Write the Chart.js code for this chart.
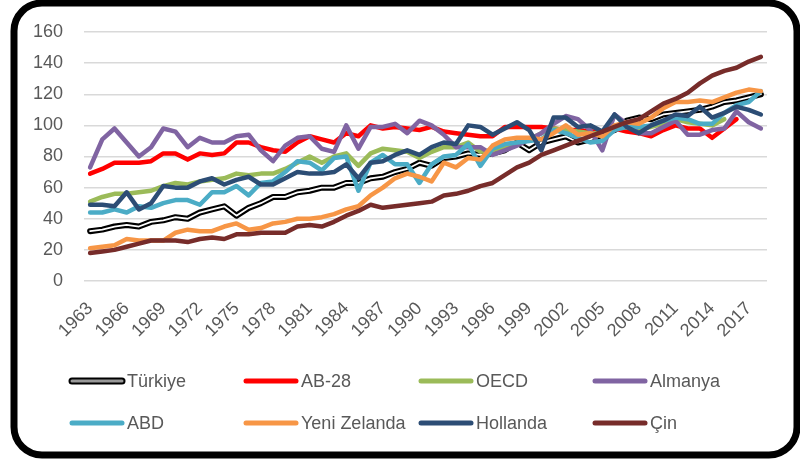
<!DOCTYPE html>
<html>
<head>
<meta charset="utf-8">
<title>Grafik</title>
<script src="https://cdn.jsdelivr.net/npm/chart.js"></script>
<style>
  html, body { margin: 0; padding: 0; background: #ffffff; }
  #wrap { position: relative; width: 800px; height: 461px; }
</style>
</head>
<body>
<div id="wrap"><canvas id="grafik" width="800" height="461"></canvas></div>
<script>
// yillar ve seriler
var yillar = [1963, 1964, 1965, 1966, 1967, 1968, 1969, 1970, 1971, 1972, 1973, 1974, 1975, 1976,
    1977, 1978, 1979, 1980, 1981, 1982, 1983, 1984, 1985, 1986, 1987, 1988, 1989, 1990, 1991, 1992,
    1993, 1994, 1995, 1996, 1997, 1998, 1999, 2000, 2001, 2002, 2003, 2004, 2005, 2006, 2007, 2008,
    2009, 2010, 2011, 2012, 2013, 2014, 2015, 2016, 2017, 2018];

var turkiye = [32, 33, 35, 36, 35, 38, 39, 41, 40, 44, 46, 48, 42, 47, 50, 54, 54, 57, 58, 60,
    60, 63, 63, 66, 67, 70, 72, 76, 74, 79, 80, 82, 81, 82, 84, 89, 84, 89, 91, 93,
    89, 91, 94, 97, 103, 105, 104, 107, 108, 109, 110, 112, 115, 116, 118, 120];
var ab28 = [69, 72, 76, 76, 76, 77, 82, 82, 78, 82, 81, 82, 89, 89, 86, 84, 83, 89, 93, 91,
    89, 95, 93, 100, 98, 99, 98, 97, 99, 96, 95, 94, 93, 93, 99, 99, 99, 99, 98, 97,
    97, 96, 96, 98, 96, 95, 93, 97, 100, 98, 98, 92, 98, 104, null, null];
var oecd = [51, 54, 56, 56, 57, 58, 61, 63, 62, 64, 65, 66, 69, 68, 69, 69, 72, 76, 80, 76,
    80, 82, 74, 82, 85, 84, 83, 79, 83, 86, 86, 89, 83, 84, 86, 89, 91, 95, 98, 97,
    96, 95, 95, 98, 99, 98, 99, 101, 104, 102, 101, 100, 104, null, null, null];
var almanya = [73, 91, 98, 89, 80, 86, 98, 96, 86, 92, 89, 89, 93, 94, 84, 77, 87, 92, 93, 85,
    83, 100, 85, 99, 99, 101, 95, 103, 100, 94, 86, 86, 86, 81, 84, 87, 91, 95, 101, 106,
    104, 97, 84, 107, 101, 95, 95, 99, 103, 94, 94, 97, 98, 109, 102, 98];
var abd = [44, 44, 46, 44, 48, 47, 50, 52, 52, 49, 57, 57, 61, 55, 63, 64, 70, 77, 76, 71,
    79, 80, 58, 76, 81, 75, 75, 63, 75, 80, 81, 88, 74, 85, 88, 89, 90, 91, 97, 95,
    92, 89, 90, 97, 99, 99, 100, 103, 105, 104, 101, 101, 108, 113, 115, 122];
var yeniZelanda = [21, 22, 23, 27, 26, 26, 26, 31, 33, 32, 32, 35, 37, 33, 34, 37, 38, 40, 40, 41,
    43, 46, 48, 55, 60, 66, 69, 67, 64, 76, 73, 79, 78, 87, 91, 92, 92, 91, 95, 100,
    94, 95, 93, 100, 102, 101, 105, 111, 115, 115, 116, 115, 118, 121, 123, 122];
var hollanda = [49, 49, 48, 57, 46, 50, 61, 60, 60, 64, 66, 62, 65, 67, 62, 62, 66, 70, 69, 69,
    70, 75, 66, 76, 77, 81, 84, 81, 86, 89, 88, 100, 99, 94, 98, 102, 97, 84, 105, 105,
    99, 100, 96, 107, 99, 95, 100, 103, 107, 106, 112, 105, 108, 112, 110, 107];
var cin = [18, 19, 20, 22, 24, 26, 26, 26, 25, 27, 28, 27, 30, 30, 31, 31, 31, 35, 36, 35,
    38, 42, 45, 49, 47, 48, 49, 50, 51, 55, 56, 58, 61, 63, 68, 73, 76, 81, 84, 87,
    90, 93, 96, 99, 102, 104, 109, 114, 117, 121, 127, 132, 135, 137, 141, 144];

var yEkseni = [0, 20, 40, 60, 80, 100, 120, 140, 160];

var yaziRengi = '#595959';
var yaziTipi = "'Liberation Sans', Arial, sans-serif";

function seri(ad, veri, renk, sira) {
    return {
        label: ad,
        data: veri,
        borderColor: renk,
        backgroundColor: renk,
        borderWidth: 4.5,
        pointRadius: 0,
        tension: 0,
        spanGaps: false,
        borderCapStyle: 'round',
        borderJoinStyle: 'round',
        order: sira
    };
}

var turkiyeUst = seri('Türkiye', turkiye, '#ffffff', 8);
turkiyeUst.borderWidth = 1.8;
turkiyeUst.ust = true;

var turkiyeAlt = seri('Türkiye', turkiye, '#000000', 9);
turkiyeAlt.borderWidth = 6;
turkiyeAlt.cift = true;

var veriSetleri = [
    turkiyeAlt,
    turkiyeUst,
    seri('AB-28', ab28, '#ff0000', 7),
    seri('OECD', oecd, '#9bbb59', 6),
    seri('Almanya', almanya, '#8064a2', 5),
    seri('ABD', abd, '#4bacc6', 4),
    seri('Yeni Zelanda', yeniZelanda, '#f79646', 3),
    seri('Hollanda', hollanda, '#2c4d75', 2),
    seri('Çin', cin, '#772c2a', 1)
];

// cerceve ve lejant
var cerceve = {
    id: 'cerceve',
    afterDraw: function (chart) {
        var ctx = chart.ctx;
        ctx.save();
        ctx.lineWidth = 7;
        ctx.strokeStyle = '#000000';
        ctx.beginPath();
        ctx.roundRect(14, 3, 783, 452, 28);
        ctx.stroke();

        var sutunlar = [69, 243, 418, 592];
        var satirlar = [381, 423];
        var k = 0;
        ctx.font = '18px ' + yaziTipi;
        ctx.textBaseline = 'middle';
        ctx.lineCap = 'round';
        chart.data.datasets.forEach(function (ds) {
            if (ds.ust) return;
            var x = sutunlar[k % 4];
            var y = satirlar[Math.floor(k / 4)];
            if (ds.cift) {
                ctx.strokeStyle = '#000000';
                ctx.lineWidth = 7;
                ctx.beginPath(); ctx.moveTo(x + 3, y); ctx.lineTo(x + 53, y); ctx.stroke();
                ctx.strokeStyle = '#999999';
                ctx.lineWidth = 3;
                ctx.beginPath(); ctx.moveTo(x + 3, y); ctx.lineTo(x + 53, y); ctx.stroke();
            } else {
                ctx.strokeStyle = ds.borderColor;
                ctx.lineWidth = 5;
                ctx.beginPath(); ctx.moveTo(x + 3, y); ctx.lineTo(x + 53, y); ctx.stroke();
            }
            ctx.fillStyle = yaziRengi;
            ctx.fillText(ds.label, x + 58, y + 1);
            k++;
        });
        ctx.restore();
    }
};

new Chart(document.getElementById('grafik'), {
    type: 'line',
    data: { labels: yillar, datasets: veriSetleri },
    options: {
        responsive: false,
        animation: false,
        layout: { padding: { left: 20, right: 33, top: 32, bottom: 100 } },
        plugins: {
            legend: { display: false },
            tooltip: { enabled: false }
        },
        scales: {
            x: {
                offset: true,
                grid: { display: false, drawTicks: false },
                border: { display: false },
                afterFit: function (s) { s.height = 80; },
                ticks: {
                    autoSkip: false,
                    minRotation: 45,
                    maxRotation: 45,
                    padding: 17,
                    color: yaziRengi,
                    font: { size: 18, family: yaziTipi },
                    callback: function (v, i) { return i % 3 === 0 ? yillar[i] : null; }
                }
            },
            y: {
                min: yEkseni[0],
                max: yEkseni[yEkseni.length - 1],
                afterFit: function (s) { s.width = 64; },
                grid: { color: '#d9d9d9', lineWidth: 1.5, drawTicks: false },
                border: { display: false },
                ticks: {
                    stepSize: 20,
                    padding: 21,
                    color: yaziRengi,
                    font: { size: 18, family: yaziTipi }
                }
            }
        }
    },
    plugins: [cerceve]
});
</script>
</body>
</html>
